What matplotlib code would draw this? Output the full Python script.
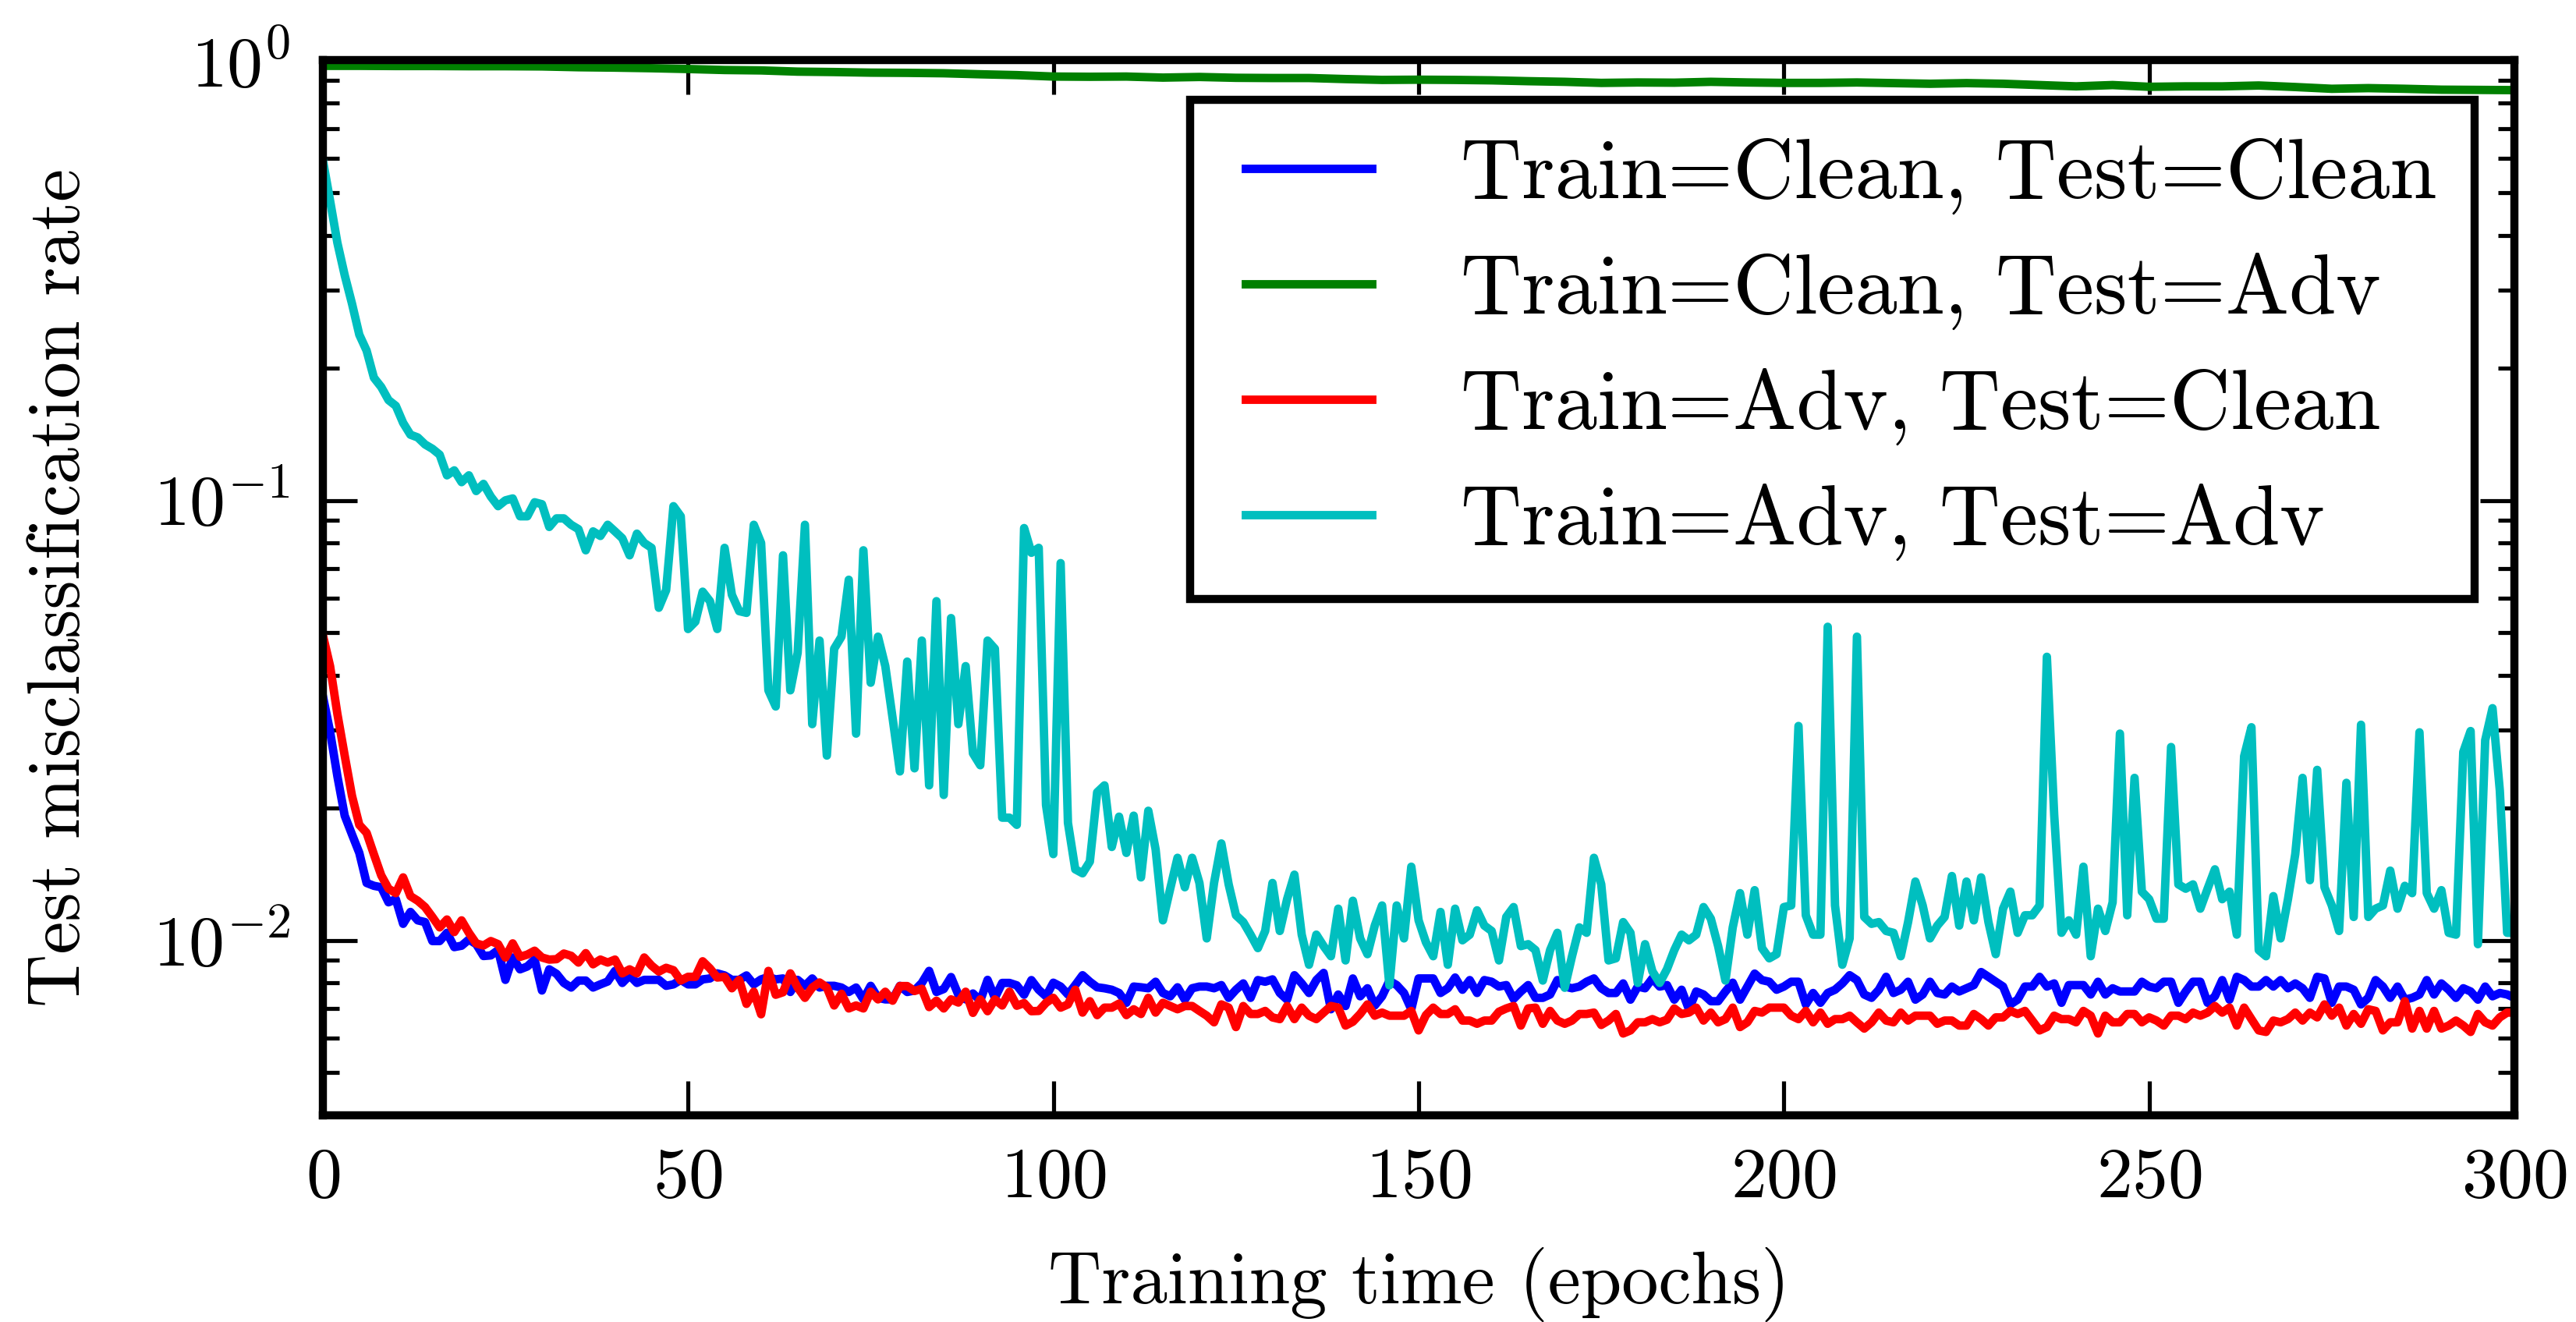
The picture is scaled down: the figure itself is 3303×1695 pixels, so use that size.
import numpy as np
import matplotlib
matplotlib.use('Agg')
import matplotlib.pyplot as plt
from matplotlib.lines import Line2D
from matplotlib.legend_handler import HandlerLine2D

# Computer Modern look, like a LaTeX figure
plt.rcParams['font.family'] = 'serif'
plt.rcParams['font.serif'] = ['cmr10']
plt.rcParams['mathtext.fontset'] = 'cm'
plt.rcParams['axes.formatter.use_mathtext'] = True
plt.rcParams['axes.unicode_minus'] = False

# data (test misclassification rate per epoch)
epochs = np.arange(0, 301)

clean_clean = [
    0.036, 0.0298, 0.0236, 0.0192, 0.0174, 0.0158, 0.0135, 0.0133, 0.0132, 0.0122,
    0.0124, 0.0109, 0.0116, 0.0111, 0.0110, 0.00996, 0.00996, 0.0104, 0.00965, 0.00972,
    0.01004, 0.0098, 0.00921, 0.00924, 0.0095, 0.00813, 0.00914, 0.00859, 0.00872, 0.00904,
    0.00769, 0.00859, 0.00839, 0.0080, 0.00781, 0.0081, 0.0081, 0.00781, 0.00794, 0.00806,
    0.00852, 0.0080, 0.00832, 0.0080, 0.00813, 0.00813, 0.00813, 0.00788, 0.00794, 0.00813,
    0.00794, 0.00794, 0.00815, 0.00819, 0.00841, 0.00832, 0.00813, 0.00813, 0.00832, 0.00794,
    0.00815, 0.00825, 0.00815, 0.00819, 0.00763, 0.00813, 0.00788, 0.00819, 0.00781, 0.00788,
    0.00788, 0.00781, 0.00763, 0.00781, 0.00734, 0.00788, 0.0074, 0.00734, 0.00734, 0.00788,
    0.00763, 0.00769, 0.0080, 0.00852, 0.00763, 0.00775, 0.00825, 0.00752, 0.00734, 0.00757,
    0.00729, 0.00813, 0.0074, 0.0080, 0.0080, 0.0079, 0.00752, 0.00812, 0.00772, 0.00746,
    0.00801, 0.00785, 0.00753, 0.00791, 0.00833, 0.00805, 0.00782, 0.00778, 0.00772, 0.00759,
    0.00721, 0.00785, 0.00782, 0.00778, 0.00805, 0.00759, 0.00746, 0.00782, 0.00733, 0.00778,
    0.00785, 0.00785, 0.00778, 0.00791, 0.0074, 0.00772, 0.00798, 0.0074, 0.00812, 0.00805,
    0.00815, 0.00759, 0.00733, 0.00833, 0.00798, 0.00759, 0.00812, 0.00843, 0.00697, 0.00753,
    0.00709, 0.00819, 0.00746, 0.00778, 0.00711, 0.00746, 0.00809, 0.00791, 0.00759, 0.00697,
    0.00819, 0.00819, 0.00819, 0.00759, 0.00778, 0.00823, 0.00772, 0.00812, 0.00759, 0.00812,
    0.00805, 0.00785, 0.00791, 0.00736, 0.00765, 0.00791, 0.0074, 0.0074, 0.00753, 0.00812,
    0.00785, 0.00778, 0.00785, 0.00805, 0.00819, 0.00778, 0.00759, 0.00759, 0.00798, 0.00733,
    0.00785, 0.00778, 0.00819, 0.00785, 0.00791, 0.00733, 0.00772, 0.00697, 0.00765, 0.00753,
    0.00727, 0.00727, 0.00765, 0.00801, 0.00733, 0.00785, 0.0084, 0.00812, 0.00805, 0.00772,
    0.00785, 0.00805, 0.00805, 0.00715, 0.00759, 0.00721, 0.00759, 0.00772, 0.00798, 0.00833,
    0.00812, 0.00753, 0.0074, 0.00772, 0.00826, 0.00759, 0.00772, 0.00805, 0.00733, 0.00753,
    0.00805, 0.00759, 0.00753, 0.00785, 0.00765, 0.00778, 0.00791, 0.00847, 0.00826, 0.00805,
    0.00785, 0.00715, 0.00733, 0.00785, 0.00785, 0.00826, 0.00785, 0.00798, 0.00721, 0.00791,
    0.00791, 0.00791, 0.00753, 0.00805, 0.00753, 0.00778, 0.00765, 0.00765, 0.00765, 0.00805,
    0.00785, 0.00778, 0.00805, 0.00805, 0.00721, 0.00765, 0.00805, 0.00805, 0.00721, 0.00746,
    0.00812, 0.00733, 0.00826, 0.00812, 0.00785, 0.00785, 0.00812, 0.00785, 0.00812, 0.00778,
    0.00798, 0.00778, 0.0074, 0.00826, 0.00819, 0.00721, 0.00785, 0.00785, 0.00772, 0.00715,
    0.0074, 0.00812, 0.00785, 0.0074, 0.00785, 0.00733, 0.0074, 0.00753, 0.00812, 0.00753,
    0.00798, 0.00772, 0.0074, 0.00778, 0.00765, 0.00733, 0.00785, 0.00746, 0.00759, 0.00753,
    0.0074,
]

green_epochs = np.arange(0, 301, 5)
clean_adv = [
    0.972, 0.972, 0.971, 0.971, 0.970, 0.970, 0.969, 0.965, 0.963, 0.960,
    0.956, 0.951, 0.949, 0.943, 0.941, 0.938, 0.937, 0.935, 0.930, 0.926,
    0.919, 0.918, 0.919, 0.914, 0.917, 0.913, 0.912, 0.912, 0.907, 0.903,
    0.904, 0.903, 0.901, 0.897, 0.894, 0.889, 0.891, 0.890, 0.894, 0.891,
    0.889, 0.889, 0.891, 0.888, 0.885, 0.888, 0.885, 0.879, 0.873, 0.879,
    0.871, 0.873, 0.873, 0.877, 0.870, 0.862, 0.865, 0.862, 0.858, 0.857,
    0.856,
]

adv_clean = [
    0.0495, 0.042, 0.0327, 0.0263, 0.0213, 0.0183, 0.01755, 0.01568, 0.01405, 0.0131,
    0.0128, 0.0139, 0.0126, 0.0123, 0.0119, 0.0113, 0.0107, 0.01115, 0.01044, 0.0111,
    0.0104, 0.00984, 0.00973, 0.00996, 0.0098, 0.00914, 0.00984, 0.00917, 0.00928, 0.00947,
    0.00914, 0.00904, 0.00906, 0.00933, 0.00922, 0.0089, 0.00935, 0.00882, 0.00904, 0.0089,
    0.00904, 0.00841, 0.00859, 0.00841, 0.00914, 0.00876, 0.00849, 0.00866, 0.00855, 0.0081,
    0.00826, 0.00826, 0.00896, 0.00863, 0.00823, 0.00826, 0.00778, 0.00813, 0.00717, 0.00764,
    0.00679, 0.00852, 0.00752, 0.00762, 0.00841, 0.00781, 0.0074, 0.00781, 0.00802, 0.00781,
    0.00711, 0.00756, 0.0070, 0.00711, 0.0070, 0.00764, 0.00734, 0.00764, 0.00729, 0.00787,
    0.00787, 0.00767, 0.00776, 0.00705, 0.00729, 0.0070, 0.00734, 0.00722, 0.00764, 0.00684,
    0.00734, 0.0069, 0.00734, 0.00711, 0.00764, 0.0071, 0.0072, 0.0069, 0.00691, 0.00721,
    0.0074, 0.00703, 0.00715, 0.00772, 0.00685, 0.00727, 0.00676, 0.00703, 0.00703, 0.00718,
    0.00676, 0.00697, 0.0068, 0.0074, 0.00685, 0.00721, 0.00709, 0.00697, 0.00709, 0.00709,
    0.00691, 0.00674, 0.00651, 0.00715, 0.00703, 0.00635, 0.00709, 0.0068, 0.0068, 0.00691,
    0.00668, 0.00662, 0.00709, 0.00662, 0.00703, 0.00674, 0.00662, 0.00685, 0.00709, 0.00703,
    0.0064, 0.00653, 0.0068, 0.00715, 0.00674, 0.00685, 0.00674, 0.00674, 0.00674, 0.00691,
    0.00624, 0.00676, 0.00703, 0.0068, 0.0068, 0.00697, 0.00657, 0.00657, 0.00646, 0.00657,
    0.00657, 0.00688, 0.0070, 0.00709, 0.0064, 0.0070, 0.00703, 0.00646, 0.00691, 0.00657,
    0.00646, 0.00657, 0.0068, 0.0068, 0.00685, 0.00642, 0.00657, 0.0068, 0.00614, 0.00624,
    0.00651, 0.00651, 0.00662, 0.00651, 0.0066, 0.0070, 0.0068, 0.00685, 0.00703, 0.00657,
    0.00685, 0.00651, 0.00662, 0.00703, 0.00635, 0.00651, 0.00691, 0.00685, 0.00703, 0.00703,
    0.00703, 0.00674, 0.00662, 0.00691, 0.00651, 0.00685, 0.00646, 0.00662, 0.00662, 0.00674,
    0.00651, 0.0063, 0.00651, 0.00685, 0.00657, 0.00651, 0.00685, 0.00657, 0.00674, 0.00674,
    0.00674, 0.00646, 0.00657, 0.00657, 0.0064, 0.0064, 0.0068, 0.00662, 0.0064, 0.00668,
    0.00668, 0.00691, 0.0068, 0.00691, 0.00657, 0.00624, 0.00635, 0.00674, 0.00662, 0.00662,
    0.00651, 0.00691, 0.00674, 0.00614, 0.00674, 0.00651, 0.00651, 0.0068, 0.0068, 0.00651,
    0.00668, 0.00657, 0.0064, 0.00674, 0.00674, 0.00662, 0.00685, 0.00674, 0.00685, 0.00709,
    0.00685, 0.00703, 0.0064, 0.00703, 0.00662, 0.00624, 0.00619, 0.00657, 0.00651, 0.00662,
    0.00685, 0.00657, 0.00685, 0.00668, 0.00715, 0.00674, 0.00703, 0.0064, 0.0068, 0.00646,
    0.00697, 0.00691, 0.00624, 0.00651, 0.00651, 0.00727, 0.0063, 0.00691, 0.0063, 0.00691,
    0.0063, 0.0064, 0.00657, 0.0064, 0.00619, 0.0068, 0.00651, 0.0064, 0.00668, 0.00685,
    0.00685,
]

adv_adv = [
    0.595, 0.48, 0.385, 0.325, 0.28, 0.238, 0.219, 0.19, 0.181, 0.169,
    0.164, 0.15, 0.141, 0.139, 0.134, 0.131, 0.127, 0.114, 0.117, 0.11,
    0.114, 0.105, 0.109, 0.102, 0.097, 0.100, 0.101, 0.092, 0.092, 0.099,
    0.098, 0.087, 0.091, 0.091, 0.088, 0.086, 0.077, 0.085, 0.083, 0.088,
    0.085, 0.082, 0.075, 0.084, 0.080, 0.078, 0.057, 0.0625, 0.097, 0.092,
    0.051, 0.053, 0.062, 0.059, 0.051, 0.078, 0.061, 0.056, 0.0555, 0.088,
    0.080, 0.037, 0.034, 0.075, 0.037, 0.045, 0.088, 0.031, 0.048, 0.0263,
    0.046, 0.049, 0.066, 0.0295, 0.077, 0.0385, 0.049, 0.042, 0.032, 0.0242,
    0.043, 0.0246, 0.048, 0.0225, 0.059, 0.0214, 0.054, 0.031, 0.042, 0.0266,
    0.025, 0.048, 0.046, 0.019, 0.019, 0.0183, 0.0865, 0.076, 0.078, 0.0203,
    0.0157, 0.072, 0.0185, 0.0145, 0.0142, 0.0151, 0.0217, 0.0225, 0.0163, 0.0191,
    0.0158, 0.0192, 0.0139, 0.0197, 0.0161, 0.0111, 0.0131, 0.0154, 0.0132, 0.0154,
    0.0135, 0.0101, 0.0135, 0.0166, 0.0134, 0.0114, 0.011, 0.0103, 0.0096, 0.0105,
    0.0135, 0.0105, 0.0124, 0.0141, 0.0103, 0.0088, 0.0103, 0.0097, 0.0092, 0.0118,
    0.009, 0.0123, 0.0101, 0.0093, 0.0108, 0.012, 0.0079, 0.012, 0.0101, 0.0147,
    0.0111, 0.0099, 0.0092, 0.0116, 0.0088, 0.0118, 0.010, 0.0103, 0.0117, 0.0108,
    0.0105, 0.009, 0.0113, 0.0119, 0.0097, 0.0098, 0.0095, 0.0081, 0.0095, 0.0104,
    0.0078, 0.0092, 0.0107, 0.0104, 0.0154, 0.0134, 0.009, 0.0091, 0.011, 0.0104,
    0.008, 0.0098, 0.0085, 0.008, 0.0086, 0.0095, 0.0103, 0.010, 0.0103, 0.0119,
    0.0112, 0.0097, 0.0081, 0.0107, 0.0128, 0.0103, 0.013, 0.0096, 0.0091, 0.0093,
    0.0119, 0.012, 0.0307, 0.0114, 0.0103, 0.0103, 0.0516, 0.012, 0.0088, 0.0101,
    0.049, 0.0113, 0.0109, 0.011, 0.0105, 0.0104, 0.0092, 0.011, 0.0136, 0.012,
    0.0101, 0.0108, 0.0113, 0.014, 0.0108, 0.0136, 0.0111, 0.0139, 0.011, 0.0093,
    0.0118, 0.0129, 0.0104, 0.0114, 0.0114, 0.012, 0.0441, 0.0193, 0.0104, 0.0111,
    0.0103, 0.0147, 0.0092, 0.0118, 0.0105, 0.0122, 0.0295, 0.0114, 0.0234, 0.0129,
    0.0124, 0.0112, 0.0112, 0.0275, 0.0134, 0.0131, 0.0134, 0.0118, 0.0131, 0.0145,
    0.0124, 0.0129, 0.0103, 0.0262, 0.0305, 0.0095, 0.0092, 0.0126, 0.0101, 0.0124,
    0.0157, 0.0234, 0.0137, 0.0244, 0.0132, 0.012, 0.0105, 0.0228, 0.0113, 0.0309,
    0.0113, 0.0118, 0.012, 0.0144, 0.0118, 0.0133, 0.0128, 0.0297, 0.0128, 0.0118,
    0.013, 0.0104, 0.0103, 0.0268, 0.0299, 0.0098, 0.0285, 0.0337, 0.0219, 0.0104,
    0.0104,
]

labels = ['Train=Clean, Test=Clean', 'Train=Clean, Test=Adv',
          'Train=Adv, Test=Clean', 'Train=Adv, Test=Adv']

fig = plt.figure(figsize=(11.01, 5.65), dpi=300)
ax = fig.add_axes([0.1253, 0.1563, 0.8508, 0.798])

lw = 2.6
ax.plot(epochs, clean_clean, color=(0, 0, 1), lw=lw, label=labels[0])
ax.plot(green_epochs, clean_adv, color=(0, 0.5, 0), lw=lw, label=labels[1])
ax.plot(epochs, adv_clean, color=(1, 0, 0), lw=lw, label=labels[2])
ax.plot(epochs, adv_adv, color=(0, 0.75, 0.75), lw=lw, label=labels[3])

ax.set_yscale('log')
ax.set_xlim(0, 300)
ax.set_ylim(0.004, 1.0)
ax.set_xticks([0, 50, 100, 150, 200, 250, 300])

for s in ax.spines.values():
    s.set_linewidth(2.5)
ax.tick_params(which='both', direction='in', top=True, right=True,
               labelsize=22, pad=10)
ax.tick_params(which='major', length=10.5, width=1.25)
ax.tick_params(which='minor', length=5, width=1.25)

ax.set_xlabel('Training time (epochs)', fontsize=22.7, labelpad=11)
ax.set_ylabel('Test misclassification rate', fontsize=22.7, labelpad=18)

# legend lines inset a little from the frame, as in the original
leg = ax.legend(loc='upper right', fontsize=26, fancybox=False,
                framealpha=1, edgecolor='black', borderaxespad=0.47,
                borderpad=0.45, handlelength=1.9, handletextpad=0.85,
                labelspacing=0.45,
                handler_map={Line2D: HandlerLine2D(marker_pad=0.2, numpoints=2)})
leg.get_frame().set_linewidth(2.5)

fig.savefig('out.png', dpi=300)
